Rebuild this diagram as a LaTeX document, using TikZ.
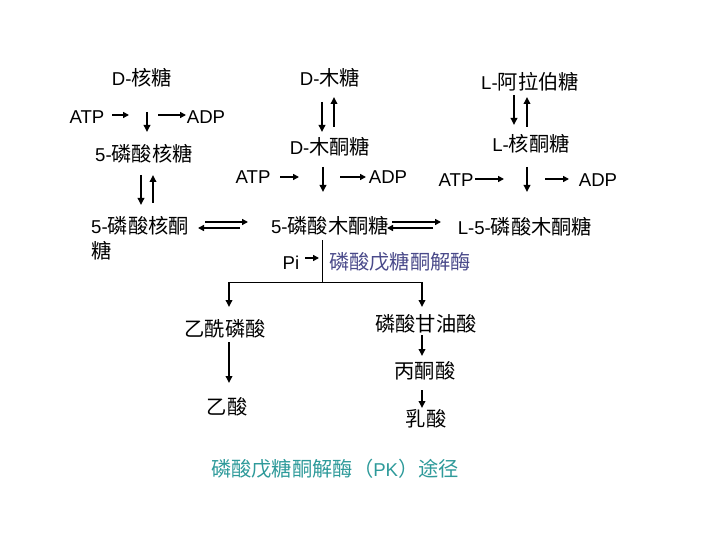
\documentclass[tikz,border=0pt]{standalone}
\usepackage{fontspec}
\setmainfont{Liberation Sans}
\newfontfamily\cjk{Noto Sans CJK SC}[Scale=1.09]
\newcommand\zh[1]{{\cjk #1}}
\usetikzlibrary{arrows.meta}
\definecolor{enzc}{HTML}{4A4A8A}
\definecolor{titlec}{HTML}{2E9A9A}
\begin{document}
\begin{tikzpicture}[x=1pt,y=-1pt,
  lbl/.style={inner sep=0pt,font=\fontsize{18.6}{25}\selectfont},
  arr/.style={-{Triangle[length=7pt,width=6.5pt]},line width=1.8pt},
  sarr/.style={-{Triangle[length=6pt,width=6pt]},line width=1.6pt},
  thin line/.style={line width=1pt}]
\useasboundingbox (0,0) rectangle (720,540);
% texts
\node[lbl] (drib) at (142,78) {D-\zh{核糖}};
\node[lbl] (dxyl) at (330,78) {D-\zh{木糖}};
\node[lbl] (lara) at (530,82) {L-\zh{阿拉伯糖}};
\node[lbl] (atp1) at (87,117) {ATP};
\node[lbl] (adp1) at (206,117) {ADP};
\node[lbl] (r5p) at (144,154) {5-\zh{磷酸核糖}};
\node[lbl] (dxu) at (330,147) {D-\zh{木酮糖}};
\node[lbl] (lru) at (531,144) {L-\zh{核酮糖}};
\node[lbl] (atp2) at (253,177) {ATP};
\node[lbl] (adp2) at (388,177) {ADP};
\node[lbl] (atp3) at (456,180) {ATP};
\node[lbl] (adp3) at (598,180) {ADP};
\node[lbl,anchor=west,align=left] (ru5p) at (91,238) {5-\zh{磷酸核酮}\\\zh{糖}};
\node[lbl] (xu5p) at (330,226) {5-\zh{磷酸木酮糖}};
\node[lbl] (lxu5p) at (525,227) {L-5-\zh{磷酸木酮糖}};
\node[lbl] (pi) at (291,263) {Pi};
\node[lbl,text=enzc] (enz) at (400,262) {\zh{磷酸戊糖酮解酶}};
\node[lbl] (acp) at (225,329) {\zh{乙酰磷酸}};
\node[lbl] (pga) at (426,324) {\zh{磷酸甘油酸}};
\node[lbl] (pyr) at (425,371) {\zh{丙酮酸}};
\node[lbl] (ace) at (227,407) {\zh{乙酸}};
\node[lbl] (lac) at (426,419) {\zh{乳酸}};
\node[lbl,text=titlec] (title) at (335,469) {\zh{磷酸戊糖酮解酶（}PK\zh{）途径}};
% coordinates
\coordinate (a1s) at (147,112); \coordinate (a1e) at (147,132);
\coordinate (t1s) at (112,115); \coordinate (t1e) at (129,115);
\coordinate (d1s) at (158,115); \coordinate (d1e) at (186,115);
\coordinate (b1s) at (141,175); \coordinate (b1e) at (141,205);
\coordinate (b2s) at (153,203); \coordinate (b2e) at (153,175);
\coordinate (c1s) at (322,102); \coordinate (c1e) at (322,132);
\coordinate (c2s) at (334,127); \coordinate (c2e) at (334,97);
\coordinate (e1s) at (323,167); \coordinate (e1e) at (323,192);
\coordinate (t2s) at (280,177); \coordinate (t2e) at (299,177);
\coordinate (d2s) at (340,177); \coordinate (d2e) at (366,177);
\coordinate (f1s) at (514,95); \coordinate (f1e) at (514,125);
\coordinate (f2s) at (527,127); \coordinate (f2e) at (527,97);
\coordinate (g1s) at (527,167); \coordinate (g1e) at (527,192);
\coordinate (t3s) at (475,179); \coordinate (t3e) at (504,179);
\coordinate (d3s) at (545,179); \coordinate (d3e) at (569,179);
\coordinate (h1s) at (205,222); \coordinate (h1e) at (248,222);
\coordinate (h2s) at (240,228); \coordinate (h2e) at (198,228);
\coordinate (k1s) at (392,222); \coordinate (k1e) at (441,222);
\coordinate (k2s) at (433,228); \coordinate (k2e) at (387,228);
\coordinate (ps) at (305,258); \coordinate (pe) at (319,258);
\coordinate (vtop) at (322,240); \coordinate (vbot) at (322,282);
\coordinate (bl) at (229,282); \coordinate (br) at (422,282);
\coordinate (ble) at (229,307); \coordinate (bre) at (422,307);
\coordinate (m1s) at (229,342); \coordinate (m1e) at (229,383);
\coordinate (n1s) at (422,335); \coordinate (n1e) at (422,356);
\coordinate (n2s) at (422,390); \coordinate (n2e) at (422,408);
% connectors
\draw[arr] (a1s) -- (a1e);
\draw[sarr] (t1s) -- (t1e);
\draw[sarr] (d1s) -- (d1e);
\draw[arr] (b1s) -- (b1e);
\draw[arr] (b2s) -- (b2e);
\draw[arr] (c1s) -- (c1e);
\draw[arr] (c2s) -- (c2e);
\draw[arr] (e1s) -- (e1e);
\draw[sarr] (t2s) -- (t2e);
\draw[sarr] (d2s) -- (d2e);
\draw[arr] (f1s) -- (f1e);
\draw[arr] (f2s) -- (f2e);
\draw[arr] (g1s) -- (g1e);
\draw[sarr] (t3s) -- (t3e);
\draw[sarr] (d3s) -- (d3e);
\draw[sarr] (h1s) -- (h1e);
\draw[sarr] (h2s) -- (h2e);
\draw[sarr] (k1s) -- (k1e);
\draw[sarr] (k2s) -- (k2e);
\draw[sarr] (ps) -- (pe);
\draw[thin line] (vtop) -- (vbot);
\draw[thin line] (bl) -- (br);
\draw[arr] (bl) -- (ble);
\draw[arr] (br) -- (bre);
\draw[arr] (m1s) -- (m1e);
\draw[arr] (n1s) -- (n1e);
\draw[arr] (n2s) -- (n2e);
\end{tikzpicture}
\end{document}
